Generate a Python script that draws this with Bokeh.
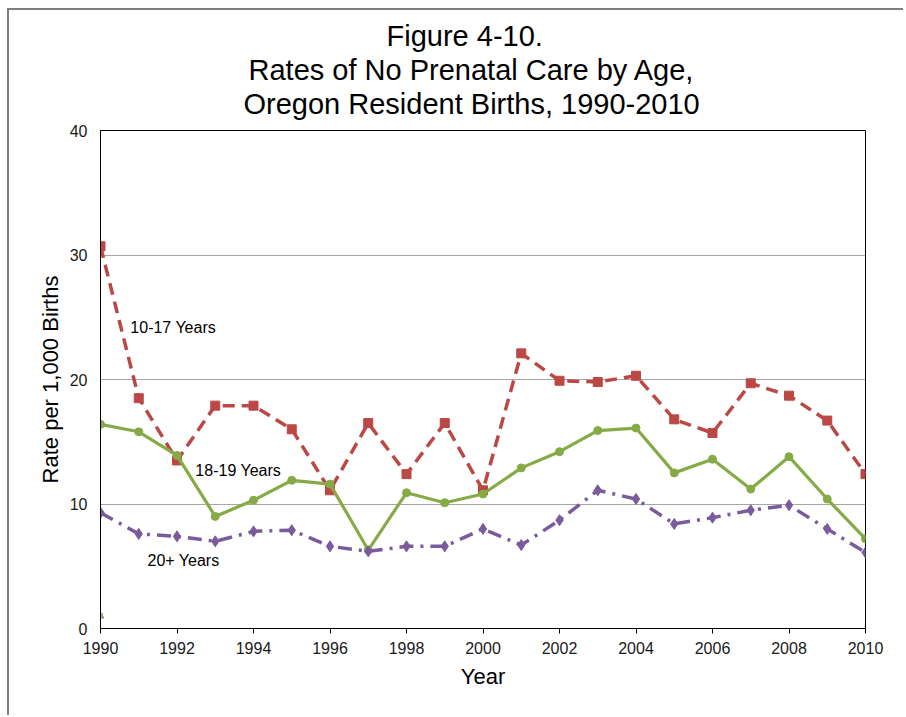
from bokeh.plotting import figure
from bokeh.models import FixedTicker, Label, Title
from bokeh.embed import file_html
from bokeh.resources import INLINE

years = list(range(1990, 2011))
age_10_17 = [30.7, 18.5, 13.5, 17.9, 17.9, 16.0, 11.1, 16.5, 12.4, 16.5, 11.1,
             22.1, 19.9, 19.8, 20.3, 16.8, 15.7, 19.7, 18.7, 16.7, 12.4]
age_18_19 = [16.4, 15.8, 13.9, 9.0, 10.3, 11.9, 11.6, 6.3, 10.9, 10.1, 10.8,
             12.9, 14.2, 15.9, 16.1, 12.5, 13.6, 11.2, 13.8, 10.4, 7.2]
age_20_plus = [9.3, 7.6, 7.4, 7.0, 7.8, 7.9, 6.6, 6.2, 6.6, 6.6, 8.0,
               6.7, 8.7, 11.1, 10.4, 8.4, 8.9, 9.5, 9.9, 8.0, 6.1]
extra_year = [1990]
extra_value = [1.0]

x_ticks = list(range(1990, 2011, 2))
y_ticks = [0, 10, 20, 30, 40]
title_lines = ["Figure 4-10.", "Rates of No Prenatal Care by Age,",
               "Oregon Resident Births, 1990-2010"]

FONT = "Liberation Sans"

p = figure(width=896, height=707, output_backend="svg", toolbar_location=None,
           x_range=(1990, 2010), y_range=(0, 40),
           min_border_left=91, min_border_right=40, min_border_top=120, min_border_bottom=89)
p.styles = {"border-left": "2px solid #7f7f7f", "border-top": "2px solid #7f7f7f",
            "margin-left": "7px", "margin-top": "8px"}

def make_title(txt, offset, standoff=0, size="29px"):
    return Title(text=txt, align="left", text_font=FONT, text_font_size=size,
                 text_font_style="normal", text_color="#000000", offset=offset,
                 standoff=standoff)

# p.title is outermost; layouts added later stack from the frame outward
p.title = make_title(title_lines[0], 286)
p.add_layout(make_title(" ", 0, 0, "8px"), "above")
p.add_layout(make_title(title_lines[2], 143), "above")
p.add_layout(make_title(title_lines[1], 148), "above")

p.outline_line_color = "#000000"
p.outline_line_width = 1
p.background_fill_color = "white"
p.border_fill_color = "white"

p.xgrid.grid_line_color = None
p.ygrid.grid_line_color = "#a6a6a6"
p.ygrid.grid_line_width = 1.2

p.xaxis.ticker = FixedTicker(ticks=x_ticks)
p.yaxis.ticker = FixedTicker(ticks=y_ticks)
for ax in (p.xaxis, p.yaxis):
    ax.axis_line_color = "#000000"
    ax.major_label_text_font = FONT
    ax.major_label_text_font_size = "16px"
    ax.major_label_text_color = "#1a1a1a"
    ax.minor_tick_line_color = None
    ax.axis_label_text_font = FONT
    ax.axis_label_text_font_style = "normal"
    ax.axis_label_text_color = "#000000"
    ax.axis_label_text_font_size = "22px"

p.xaxis.major_tick_in = 0
p.xaxis.major_tick_out = 5
p.xaxis.major_tick_line_color = "#000000"
p.xaxis.major_label_standoff = 8
p.xaxis.axis_label = "Year"
p.xaxis.axis_label_standoff = 7

p.yaxis.major_tick_line_color = None
p.yaxis.major_tick_in = 0
p.yaxis.major_tick_out = 0
p.yaxis.major_label_standoff = 13
p.yaxis.axis_label = "Rate per 1,000 Births"
p.yaxis.axis_label_standoff = 4

red = "#bb4845"
green = "#86aa46"
purple = "#7a5b9c"

p.line(years, age_10_17, line_color=red, line_width=3.5, line_dash="12 7")
p.scatter(years, age_10_17, marker="square", size=9, fill_color=red, line_color=red)

p.line(years, age_18_19, line_color=green, line_width=3.2)
p.scatter(years, age_18_19, marker="circle", size=8, fill_color=green, line_color=green)

p.line(years, age_20_plus, line_color=purple, line_width=3.5, line_dash="14 7 3 7")
p.scatter(years, age_20_plus, marker="diamond", size=11, fill_color=purple, line_color=purple)

p.scatter(extra_year, extra_value, marker="triangle", size=7, fill_color="#4bacc6", line_color="#4bacc6")
p.scatter(extra_year, extra_value, marker="x", size=7, line_color="#f79646", line_width=1.5)

for txt, xx, yy in [("10-17 Years", 1990.78, 24.2), ("18-19 Years", 1992.48, 12.7), ("20+ Years", 1991.23, 5.45)]:
    p.add_layout(Label(x=xx, y=yy, text=txt, text_font=FONT, text_font_size="16px",
                       text_color="#000000", text_baseline="middle", text_align="left"))

open("out.html", "w").write(file_html(p, INLINE))
